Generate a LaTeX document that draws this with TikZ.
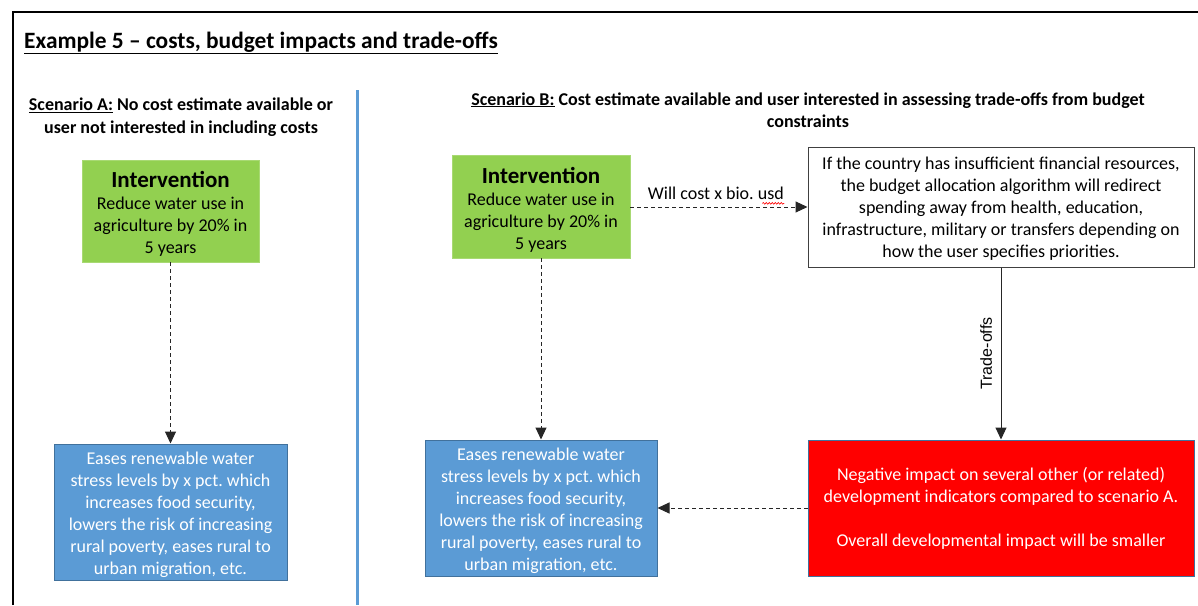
\documentclass[tikz,border=0pt]{standalone}
\usepackage{fontspec}
\setmainfont{Carlito}
\newfontfamily\labelfont{Liberation Sans}
\usetikzlibrary{arrows.meta,calc,decorations.pathmorphing}
\definecolor{boxgreen}{HTML}{92D050}
\definecolor{boxblue}{HTML}{5B9BD5}
\definecolor{blueedge}{HTML}{41719C}
\definecolor{sepblue}{HTML}{5B9BD5}
\definecolor{alertred}{HTML}{FF0000}
\frenchspacing
\begin{document}
\begin{tikzpicture}[x=1pt,y=-1pt,
  body/.style={font=\fontsize{18}{22}\selectfont, align=center, inner sep=0pt},
  greenbox/.style={fill=boxgreen, draw=boxgreen!80!white, line width=0.6pt,
    minimum width=177pt, minimum height=102pt, inner sep=0pt},
  bluebox/.style={fill=boxblue, draw=blueedge, line width=1pt,
    minimum width=233pt, minimum height=136pt, inner sep=0pt},
  whitebox/.style={fill=white, draw=black!75, line width=1pt,
    minimum width=386pt, minimum height=120pt, inner sep=0pt},
  redbox/.style={body, fill=alertred, draw=blueedge, line width=1pt, text=white,
    minimum width=386pt, minimum height=136pt},
  heading/.style={font=\bfseries\fontsize{18}{22.5}\selectfont, align=center, inner sep=0pt},
  dasharrow/.style={draw=black!85, line width=1pt, dash pattern=on 4pt off 3pt,
    -{Triangle[length=12pt,width=11pt]}},
  solidarrow/.style={draw=black!85, line width=1pt, -{Triangle[length=12pt,width=11pt]}}
]
\useasboundingbox (0,0) rectangle (1198,605);

% frame and separator
\draw[line width=2pt, black] (13,605) -- (13,12) -- (1198,12);
\draw[line width=3pt, sepblue] (357,90) -- (357,605);

% title
\node[anchor=base west, inner sep=0pt, font=\bfseries\fontsize{23.4}{28}\selectfont] (title) at (24,48)
  {\underline{Example 5 – costs, budget impacts and trade-offs}};

% scenario headings
\node[heading] (headA) at (181,117)
  {\underline{Scenario A:} No cost estimate available or\\ user not interested in including costs};
\node[heading] (headB) at (808,110)
  {\underline{Scenario B:} Cost estimate available and user interested in assessing trade-offs from budget\\ constraints};

% scenario A
\node[greenbox] (intA) at (170.5,211) {};
\node[body] (intAtext) at ($(intA)+(0,3)$)
  {{\bfseries\fontsize{23}{26}\selectfont Intervention}\\ Reduce water use in\\ agriculture by 20\% in\\ 5 years};
\node[bluebox] (effA) at (170.5,512) {};
\node[body, text=white] (effAtext) at ($(effA)+(0,3)$)
  {Eases renewable water\\ stress levels by x pct. which\\ increases food security,\\ lowers the risk of increasing\\ rural poverty, eases rural to\\ urban migration, etc.};
\draw[dasharrow] (intA) -- (effA);

% scenario B
\node[greenbox, minimum width=178pt, minimum height=103pt] (intB) at (541,206.5) {};
\node[body] (intBtext) at ($(intB)+(0,3)$)
  {{\bfseries\fontsize{23}{26}\selectfont Intervention}\\ Reduce water use in\\ agriculture by 20\% in\\ 5 years};
\node[bluebox, minimum width=232pt] (effB) at (541,508) {};
\node[body, text=white] (effBtext) at ($(effB)+(0,3)$)
  {Eases renewable water\\ stress levels by x pct. which\\ increases food security,\\ lowers the risk of increasing\\ rural poverty, eases rural to\\ urban migration, etc.};
\draw[dasharrow] (intB) -- (effB);

\node[whitebox] (budget) at (1001,207) {};
\node[body] (budgettext) at ($(budget)+(0,2)$)
  {If the country has insufficient financial resources,\\ the budget allocation algorithm will redirect\\ spending away from health, education,\\ infrastructure, military or transfers depending on\\ how the user specifies priorities.};
\node[redbox] (neg) at (1001,508)
  {Negative impact on several other (or related)\\ development indicators compared to scenario A.\\[22pt] Overall developmental impact will be smaller};

\draw[dasharrow] (intB.east |- budget.west) -- node[above=7pt, body, xshift=-3pt] (cost) {Will cost x bio. usd} (budget.west);
\draw[red, line width=0.6pt, decorate, decoration={snake, amplitude=0.9pt, segment length=3pt}]
  ($(cost.base east)+(-22,4)$) -- ($(cost.base east)+(0,4)$);

\draw[solidarrow] (budget) -- node[rotate=90, anchor=south, inner sep=0pt, outer sep=9pt,
  font=\labelfont\fontsize{16}{18}\selectfont] (tradeoff) {Trade-offs} (neg);
\draw[dasharrow] (neg) -- (effB);
\end{tikzpicture}
\end{document}
